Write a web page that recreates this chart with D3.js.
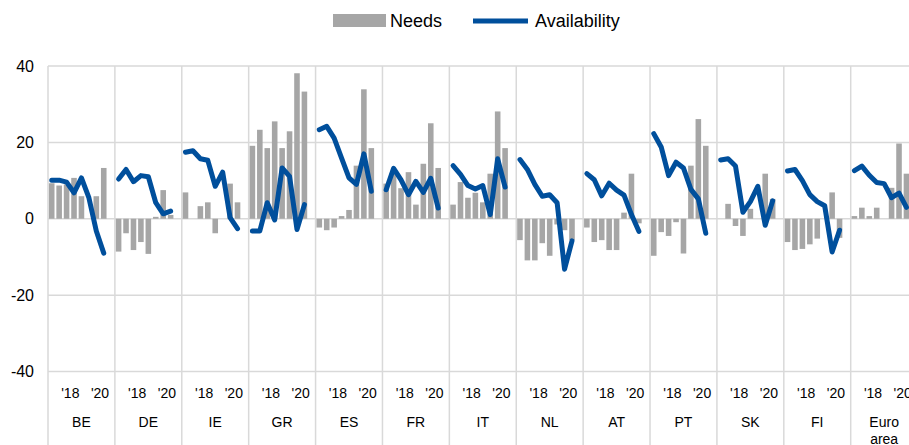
<!DOCTYPE html>
<html>
<head>
<meta charset="utf-8">
<script src="https://cdn.jsdelivr.net/npm/d3@7"></script>
<style>
  html, body { margin: 0; padding: 0; background: #fff; }
  svg { display: block; font-family: "Liberation Sans", Arial, sans-serif; }
</style>
</head>
<body>
<svg id="chart" width="909" height="445"></svg>
<script>
// Countries shown as groups along the category axis
const countries = ["BE", "DE", "IE", "GR", "ES", "FR", "IT", "NL", "AT", "PT", "SK", "FI", "Euro area"];

// Half-year survey rounds inside each country group
const periods = ["H1 17", "H2 17", "H1 18", "H2 18", "H1 19", "H2 19", "H1 20", "H2 20"];

// Year labels on the inner axis level, each centred on its two rounds
const yearLabels = ["'18", "'20"];
const yearPeriods = [["H1 18", "H2 18"], ["H1 20", "H2 20"]];

// Value axis ticks
const yTicks = [-40, -20, 0, 20, 40];

// Net percentage of firms: change in needs for bank loans (bars)
const needs = [
  [9.3, 8.7, 9.0, 10.7, 5.9, 0, 5.9, 13.3],      // BE
  [-8.6, -3.8, -8.2, -6.1, -9.2, 0.5, 7.5, 1.0], // DE
  [6.9, 0, 3.3, 4.3, -3.8, 0, 9.2, 4.3],         // IE
  [19.1, 23.3, 18.5, 25.5, 18.5, 22.9, 38.1, 33.3], // GR
  [-2.3, -3.0, -2.3, 0.7, 2.3, 13.9, 33.9, 18.5],   // ES
  [9.2, 12.0, 8.0, 12.2, 3.7, 14.4, 25.0, 13.3],    // FR
  [3.7, 9.6, 5.5, 6.8, 4.3, 11.8, 28.1, 18.5],      // IT
  [-5.6, -10.9, -10.9, -6.4, -9.7, -1.5, -3.0, -5.6], // NL
  [-2.3, -6.1, -5.6, -8.2, -8.2, 1.6, 11.8, -1.2],  // AT
  [-9.7, -3.5, -4.5, -0.9, -9.1, 13.9, 26.1, 19.1], // PT
  [0, 3.9, -1.9, -4.5, 2.6, 0, 11.8, 5.2],          // SK
  [-6.1, -8.2, -7.9, -6.7, -5.2, 0, 6.9, -5.0],     // FI
  [0.7, 2.9, 0.7, 2.9, 0, 8.1, 19.7, 11.8]          // Euro area
];

// Net percentage of firms: change in availability of bank loans (lines)
const availability = [
  [10.1, 10.1, 9.6, 6.8, 10.7, 5.5, -3.2, -9.0],    // BE
  [10.4, 12.9, 9.7, 11.3, 11.0, 4.2, 1.3, 2.0],     // DE
  [17.4, 17.8, 15.7, 15.3, 8.5, 12.2, 0.3, -2.6],   // IE
  [-3.2, -3.2, 4.2, -0.3, 13.3, 11.1, -2.8, 3.7],   // GR
  [23.3, 24.2, 21.1, 15.9, 10.7, 9.0, 17.0, 7.2],   // ES
  [7.6, 13.2, 10.2, 6.3, 9.8, 6.9, 10.6, 2.8],      // FR
  [13.9, 11.6, 8.7, 7.8, 8.7, 1.1, 15.7, 8.3],      // IT
  [15.5, 12.9, 9.0, 5.9, 6.3, 4.2, -13.2, -5.8],    // NL
  [11.8, 10.2, 6.0, 9.3, 7.5, 6.2, 1.1, -3.3],      // AT
  [22.3, 18.8, 11.3, 14.8, 13.3, 7.7, 5.2, -3.8],   // PT
  [15.4, 15.7, 13.8, 1.7, 4.5, 8.5, -1.7, 4.7],     // SK
  [12.5, 12.9, 10.0, 6.3, 4.5, 3.4, -8.7, -3.0],    // FI
  [12.6, 13.8, 11.4, 9.5, 9.2, 5.5, 6.7, 3.0]       // Euro area
];

const W = 909, H = 445;
const plot = { left: 48, right: 917.6, top: 66, bottom: 371.5 };
const barColor = "#a6a6a6";
const lineColor = "#004f9c";
const gridColor = "#d9d9d9";

const svg = d3.select("#chart");

// Outer scale: one band per country; inner scale: rounds, leaving one empty slot at the end of each group
const x0 = d3.scaleBand().domain(countries).range([plot.left, plot.right]).padding(0);
const slot = x0.bandwidth() / (periods.length + 1);
const x1 = d3.scaleBand().domain(periods).range([0, slot * periods.length]).paddingInner(0.25).paddingOuter(0.125);
const y = d3.scaleLinear().domain([-40, 40]).range([plot.bottom, plot.top]);
const cx = p => x1(p) + x1.bandwidth() / 2;

// Horizontal gridlines
svg.append("g").selectAll("line").data(yTicks).join("line")
  .attr("x1", plot.left).attr("x2", plot.right)
  .attr("y1", d => y(d)).attr("y2", d => y(d))
  .attr("stroke", gridColor).attr("stroke-width", 1.5);

// Group separators, running down through the category labels
const seps = countries.map(c => x0(c)).concat([plot.right]);
svg.append("g").selectAll("line").data(seps).join("line")
  .attr("x1", d => d).attr("x2", d => d)
  .attr("y1", plot.top).attr("y2", H)
  .attr("stroke", gridColor).attr("stroke-width", 1.5);

// Y axis labels (plain hyphen for negatives)
const yAxis = d3.axisLeft(y).tickValues(yTicks).tickSize(0).tickPadding(14).tickFormat(d => String(d));
const gy = svg.append("g").attr("transform", `translate(${plot.left},0)`).call(yAxis);
gy.select(".domain").remove();
gy.selectAll("text").attr("font-size", 16).attr("fill", "#000")
  .attr("font-family", "'Liberation Sans', Arial, sans-serif");

// Country groups
const groups = svg.append("g").selectAll("g").data(countries).join("g")
  .attr("transform", c => `translate(${x0(c)},0)`);

// Needs bars
groups.append("g").selectAll("rect")
  .data((c, i) => needs[i].map((v, j) => ({ p: periods[j], v })))
  .join("rect")
  .attr("x", d => x1(d.p))
  .attr("width", x1.bandwidth())
  .attr("y", d => y(Math.max(0, d.v)))
  .attr("height", d => Math.abs(y(d.v) - y(0)))
  .attr("fill", barColor);

// Availability lines
const line = d3.line().x(d => cx(d.p)).y(d => y(d.v));
groups.append("path")
  .datum((c, i) => availability[i].map((v, j) => ({ p: periods[j], v })))
  .attr("d", line)
  .attr("fill", "none")
  .attr("stroke", lineColor)
  .attr("stroke-width", 5)
  .attr("stroke-linejoin", "round")
  .attr("stroke-linecap", "round");

// Inner axis level: year labels
groups.append("g").selectAll("text")
  .data(yearLabels.map((t, k) => ({ t, ps: yearPeriods[k] })))
  .join("text")
  .attr("x", d => d3.mean(d.ps, cx))
  .attr("y", 398)
  .attr("text-anchor", "middle")
  .attr("font-size", 14)
  .attr("fill", "#000")
  .text(d => d.t);

// Outer axis level: country names (wrapped onto two lines where needed)
groups.append("text")
  .attr("x", x0.bandwidth() / 2)
  .attr("y", 427)
  .attr("text-anchor", "middle")
  .attr("font-size", 14)
  .attr("fill", "#000")
  .selectAll("tspan")
  .data(c => c.split(" "))
  .join("tspan")
  .attr("x", x0.bandwidth() / 2)
  .attr("dy", (d, i) => i === 0 ? 0 : 17)
  .text(d => d);

// Legend
const legend = svg.append("g");
legend.append("rect").attr("x", 333).attr("y", 14).attr("width", 53).attr("height", 13).attr("fill", barColor);
legend.append("text").attr("x", 390).attr("y", 27).attr("font-size", 18).attr("fill", "#000").text("Needs");
legend.append("line").attr("x1", 473).attr("x2", 528).attr("y1", 21).attr("y2", 21)
  .attr("stroke", lineColor).attr("stroke-width", 5);
legend.append("text").attr("x", 535).attr("y", 27).attr("font-size", 18).attr("fill", "#000").text("Availability");
</script>
</body>
</html>
